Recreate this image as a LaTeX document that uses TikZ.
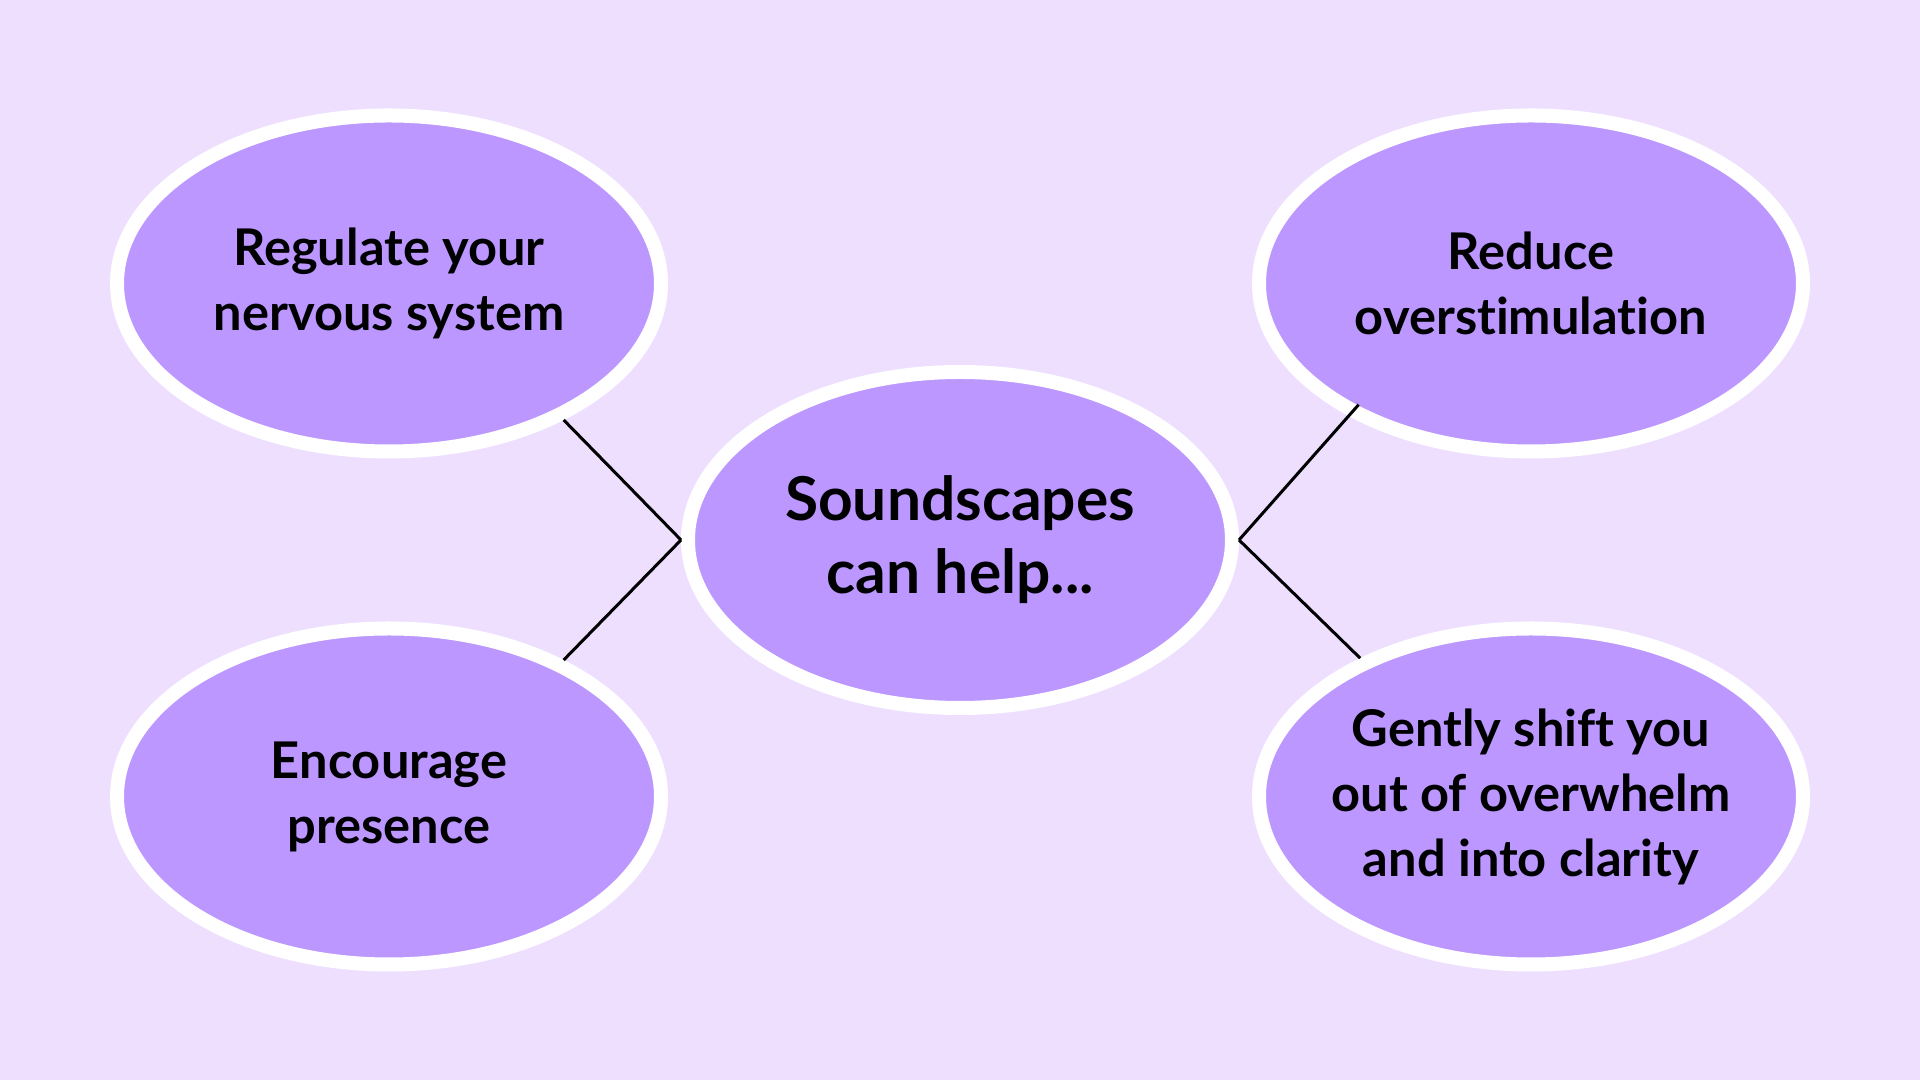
\documentclass[tikz,border=0pt]{standalone}
\usepackage{fontspec}
\setmainfont{Lato}[Ligatures=NoCommon]
\usepackage{tikz}
\usetikzlibrary{matrix,shapes.geometric}
\definecolor{lavender}{HTML}{EEDFFF}
\definecolor{bubblefill}{HTML}{BB97FF}

\begin{document}
\begin{tikzpicture}[bubble/.style={ellipse, draw=white, line width=1.4mm, fill=bubblefill, minimum width=54.4mm, minimum height=33.6mm, inner sep=-3mm, align=center, anchor=center, font=\bfseries\fontsize{14.4}{18.5}\selectfont}, link/.style={line width=0.3mm, black}]
\fill[lavender] (0,0) rectangle (192mm,108mm);
\useasboundingbox (0,0) rectangle (192mm,108mm);
\matrix (m) at (96mm,54mm) [row sep={25.65mm,between origins}, column sep={57.1mm,between origins}]
{
	\node[bubble] (m-1-1) {Regulate your\\nervous system}; & & \node[bubble] (m-1-3) {Reduce\\overstimulation}; \\
	& \node[bubble, font=\bfseries\fontsize{17.2}{20.8}\selectfont] (m-2-2) {Soundscapes\\can help...}; & \\
	\node[bubble] (m-3-1) {Encourage\\presence}; & & \node[bubble] (m-3-3) {Gently shift you\\out of overwhelm\\and into clarity}; \\
};
\path[link]
(m-2-2.west) edge (m-1-1.-38.5)
(m-2-2.west) edge (m-3-1.38)
;
\path[link]
(m-2-2.east) edge[shorten >=-1.5mm] (m-1-3.216)
(m-2-2.east) edge (m-3-3.141.7)
;
\end{tikzpicture}
\end{document}
